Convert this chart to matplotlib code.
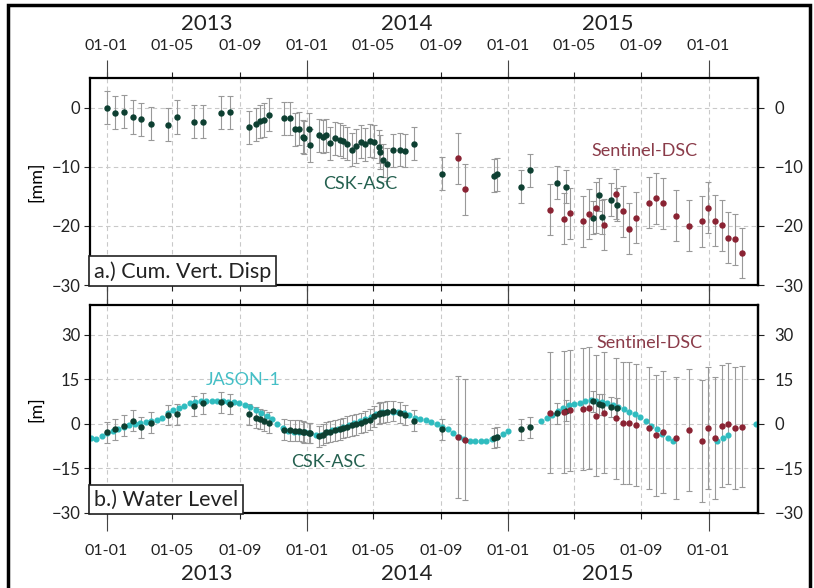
import numpy as np
import pandas as pd
import matplotlib
matplotlib.use("Agg")
import matplotlib.pyplot as plt
import matplotlib.dates as mdates
from matplotlib.patches import Rectangle

plt.rcParams['font.family'] = ['Lato', 'DejaVu Sans']

# ---- data ----
csk_dates = ["2013-01-01", "2013-01-17", "2013-02-01", "2013-02-18", "2013-03-04", "2013-03-22",
             "2013-04-23", "2013-05-09", "2013-06-09", "2013-06-25", "2013-07-28", "2013-08-13",
             "2013-09-17", "2013-09-29", "2013-10-08", "2013-10-15", "2013-10-24", "2013-11-20",
             "2013-12-01", "2013-12-10", "2013-12-18", "2013-12-24", "2013-12-27", "2014-01-04",
             "2014-01-07", "2014-01-23", "2014-01-29", "2014-02-05", "2014-02-12", "2014-02-21",
             "2014-03-02", "2014-03-08", "2014-03-14", "2014-03-23", "2014-03-31", "2014-04-09",
             "2014-04-17", "2014-04-26", "2014-05-02", "2014-05-11", "2014-05-14", "2014-05-18",
             "2014-05-27", "2014-06-06", "2014-06-19", "2014-06-28", "2014-07-15", "2014-09-04",
             "2014-12-07", "2014-12-12", "2015-01-25", "2015-02-10", "2015-03-31", "2015-04-16",
             "2015-06-05", "2015-06-16", "2015-06-21", "2015-07-07", "2015-07-19"]
csk_disp = [0.0, -0.9, -0.7, -1.6, -2.0, -2.7, -2.9, -1.6, -2.4, -2.4,
            -0.9, -0.8, -3.3, -2.8, -2.3, -2.1, -1.2, -1.8, -1.8, -3.7,
            -3.6, -4.9, -5.1, -3.7, -6.4, -4.7, -4.9, -4.7, -6.0, -5.2,
            -5.4, -5.7, -6.1, -7.1, -6.5, -5.8, -6.2, -5.6, -5.8, -6.6,
            -7.5, -8.9, -9.6, -7.2, -7.1, -7.3, -6.1, -11.2, -11.5, -11.3,
            -13.4, -10.6, -12.7, -13.4, -18.6, -14.7, -18.5, -15.6, -16.4]
csk_level = [-2.8, -1.8, -0.6, 1.0, -1.2, 0.4, 3.0, 3.2, 6.0, 6.9,
             7.2, 6.7, 3.2, 2.1, 1.6, 1.1, 0.4, -2.0, -2.2, -2.3,
             -2.3, -2.7, -2.9, -3.1, -3.1, -4.2, -3.7, -2.9, -2.6, -2.2,
             -1.8, -1.4, -1.0, -0.5, -0.1, 0.3, 0.8, 1.4, 2.6, 3.4,
             3.7, 3.8, 4.1, 4.3, 3.7, 3.0, 1.0, -1.8, -4.8, -4.4,
             -1.8, -1.2, 3.6, 4.4, 7.6, 6.6, 6.5, 5.7, 5.3]
csk_disp_err = 2.8
csk_level_err = 3.5

sent_dates = ["2014-10-02", "2014-10-15", "2015-03-19", "2015-04-13", "2015-04-24", "2015-05-18",
              "2015-05-29", "2015-06-10", "2015-06-24", "2015-07-17", "2015-07-30", "2015-08-10",
              "2015-08-22", "2015-09-15", "2015-09-27", "2015-10-10", "2015-11-03", "2015-11-27",
              "2015-12-21", "2015-12-31", "2016-01-13", "2016-01-25", "2016-02-06", "2016-02-18",
              "2016-03-01"]
sent_disp = [-8.6, -13.8, -17.3, -18.8, -17.9, -19.2, -18.0, -16.9, -19.8, -14.6,
             -17.5, -20.5, -18.6, -16.1, -15.3, -16.2, -18.3, -20.0, -19.2, -16.9,
             -19.1, -19.9, -22.0, -22.3, -24.6]
sent_level = [-4.3, -5.3, 3.8, 4.1, 4.5, 4.9, 5.3, 2.8, 3.8, 1.8,
              0.2, 0.4, -0.5, -1.5, -3.9, -2.8, -4.8, -2.1, -5.9, -1.5,
              -4.8, -0.6, 0.1, -1.5, -0.9]
sent_disp_err = 4.3
sent_level_err = 20.5

jason_dates = ["2012-12-03", "2012-12-13", "2012-12-23", "2013-01-02", "2013-01-12", "2013-01-22",
               "2013-02-01", "2013-02-11", "2013-02-21", "2013-03-03", "2013-03-13", "2013-03-23",
               "2013-04-02", "2013-04-12", "2013-04-22", "2013-05-02", "2013-05-12", "2013-05-22",
               "2013-06-01", "2013-06-11", "2013-06-21", "2013-07-01", "2013-07-11", "2013-07-21",
               "2013-07-31", "2013-08-10", "2013-08-20", "2013-08-30", "2013-09-09", "2013-09-19",
               "2013-09-29", "2013-10-09", "2013-10-19", "2013-10-29", "2013-11-08", "2013-11-18",
               "2013-11-28", "2013-12-08", "2013-12-18", "2013-12-28", "2014-01-07", "2014-01-17",
               "2014-01-27", "2014-02-06", "2014-02-16", "2014-02-26", "2014-03-08", "2014-03-18",
               "2014-03-28", "2014-04-07", "2014-04-17", "2014-04-27", "2014-05-07", "2014-05-17",
               "2014-05-27", "2014-06-06", "2014-06-16", "2014-06-26", "2014-07-06", "2014-07-16",
               "2014-07-26", "2014-08-05", "2014-08-15", "2014-08-25", "2014-09-04", "2014-09-14",
               "2014-09-24", "2014-10-04", "2014-10-14", "2014-10-24", "2014-11-03", "2014-11-13",
               "2014-11-23", "2014-12-03", "2014-12-13", "2014-12-23", "2015-01-02", "2015-03-03",
               "2015-03-13", "2015-03-23", "2015-04-02", "2015-04-12", "2015-04-22", "2015-05-02",
               "2015-05-12", "2015-05-22", "2015-06-01", "2015-06-11", "2015-06-21", "2015-07-01",
               "2015-07-11", "2015-07-21", "2015-07-31", "2015-08-10", "2015-08-20", "2015-08-30",
               "2015-09-09", "2015-09-19", "2015-09-29", "2015-10-09", "2015-10-19", "2015-10-29",
               "2016-01-17", "2016-01-27", "2016-02-06", "2016-03-27"]
jason_level = [-4.9, -5.0, -4.2, -3.2, -2.5, -1.8, -1.2, -0.4, 0.0, 0.2,
               0.5, 0.8, 1.3, 2.1, 3.5, 4.7, 5.3, 6.0, 6.9, 7.3,
               7.6, 7.8, 7.8, 7.7, 7.6, 7.4, 7.2, 6.9, 6.4, 5.7,
               4.7, 3.6, 2.8, 1.5, 0.0, -1.3, -2.5, -2.7, -2.8, -2.9,
               -3.0, -3.6, -3.8, -2.6, -2.1, -1.6, -1.0, -0.4, 0.2, 0.9,
               1.6, 2.3, 3.3, 4.0, 4.1, 4.1, 3.9, 3.6, 2.9, 2.0,
               1.5, 1.2, 0.5, -0.2, -1.2, -1.9, -3.1, -4.3, -5.1, -5.7,
               -5.8, -5.8, -5.7, -5.1, -4.3, -3.3, -2.3,
               1.0, 2.0, 3.0, 4.3, 5.4, 6.2, 6.6, 7.0, 7.6, 7.9,
               7.8, 7.4, 6.9, 6.3, 5.5, 4.9, 4.1, 3.2, 2.4, 1.0,
               -0.6, -1.6, -3.3, -4.9, -5.9,
               -5.7, -4.8, -3.6, 0.0]

year_labels = ["2013", "2014", "2015"]
year_centers = ["2013-07-02", "2014-07-02", "2015-07-02"]
disp_ticks = [0, -10, -20, -30]
level_ticks = [30, 15, 0, -15, -30]

# ---- colours ----
c_csk = '#0d3f31'
c_sent = '#8a2333'
c_jason = '#2fbcbf'
c_err = '#999999'

csk_t = pd.to_datetime(csk_dates)
sent_t = pd.to_datetime(sent_dates)
jason_t = pd.to_datetime(jason_dates)
xlim = (pd.Timestamp("2012-12-02"), pd.Timestamp("2016-03-31"))

fig = plt.figure(figsize=(8.14, 5.88), dpi=100)
ax1 = fig.add_axes([0.1106, 0.5153, 0.8206, 0.352])
ax2 = fig.add_axes([0.1106, 0.1276, 0.8206, 0.3537])


def style_axis(ax, ylim, yticks, top_labels):
    ax.set_xlim(*xlim)
    ax.set_ylim(*ylim)
    ax.set_yticks(yticks)
    ax.xaxis.set_major_locator(mdates.MonthLocator(bymonth=[1, 5, 9]))
    ax.xaxis.set_major_formatter(mdates.DateFormatter('%d-%m'))
    ax.xaxis.set_minor_locator(mdates.YearLocator())
    ax.xaxis.remove_overlapping_locs = False
    ax.tick_params(axis='x', which='major', direction='out', length=4, width=0.8,
                   top=True, bottom=True, labeltop=top_labels, labelbottom=not top_labels,
                   pad=14 if top_labels else 18, labelsize=11.5, colors='#222222')
    ax.tick_params(axis='x', which='minor', direction='out', length=13, width=0.8,
                   top=True, bottom=True, colors='#444444')
    ax.tick_params(axis='y', direction='out', length=4, width=0.8, left=True, right=False,
                   pad=3, labelsize=12, colors='#222222')
    ax.grid(True, which='major', color='#c9c9c9', linestyle=(0, (4, 3)), linewidth=0.8)
    ax.set_axisbelow(True)
    for s in ax.spines.values():
        s.set_linewidth(1.6)
    sec = ax.secondary_yaxis('right')
    sec.set_yticks(yticks)
    sec.tick_params(direction='out', length=4, width=0.8, pad=8, labelsize=12, colors='#222222')
    sec.spines['right'].set_linewidth(1.6)
    for lab, c in zip(year_labels, year_centers):
        yy, off = (1, 39) if top_labels else (0, -44)
        ax.annotate(lab, xy=(pd.Timestamp(c), yy), xycoords=('data', 'axes fraction'),
                    xytext=(0, off), textcoords='offset points', ha='center', va='center',
                    fontsize=16, color='#222222')


# ---- a.) cumulative vertical displacement ----
style_axis(ax1, (-30, 5), disp_ticks, True)
ax1.errorbar(csk_t, csk_disp, yerr=csk_disp_err, fmt='none', ecolor=c_err, elinewidth=0.8,
             capsize=2, capthick=0.8, zorder=1)
ax1.errorbar(sent_t, sent_disp, yerr=sent_disp_err, fmt='none', ecolor=c_err, elinewidth=0.8,
             capsize=2, capthick=0.8, zorder=1)
ax1.plot(csk_t, csk_disp, 'o', color=c_csk, ms=3.6, zorder=3)
ax1.plot(sent_t, sent_disp, 'o', color=c_sent, ms=3.6, zorder=4)
ax1.text(pd.Timestamp("2014-04-07"), -13, 'CSK-ASC', color='#24604f', fontsize=13,
         ha='center', va='center')
ax1.text(pd.Timestamp("2015-09-07"), -7.4, 'Sentinel-DSC', color='#8a3b49', fontsize=13,
         ha='center', va='center')
ax1.text(0.006, 0.035, 'a.) Cum. Vert. Disp', transform=ax1.transAxes, fontsize=15.5,
         color='#222222', bbox=dict(boxstyle='square,pad=0.22', fc='white', ec='#222222', lw=1.2))
ax1.set_ylabel('[mm]', fontsize=13)
ax1.yaxis.set_label_coords(-0.068, 0.5)

# ---- b.) water level ----
style_axis(ax2, (-30, 40), level_ticks, False)
ax2.errorbar(csk_t, csk_level, yerr=csk_level_err, fmt='none', ecolor=c_err, elinewidth=0.8,
             capsize=2, capthick=0.8, zorder=1)
ax2.errorbar(sent_t, sent_level, yerr=sent_level_err, fmt='none', ecolor=c_err, elinewidth=0.8,
             capsize=2, capthick=0.8, zorder=1)
ax2.plot(jason_t, jason_level, 'o', color=c_jason, ms=3.4, zorder=2)
ax2.plot(csk_t, csk_level, 'o', color=c_csk, ms=3.6, zorder=3)
ax2.plot(sent_t, sent_level, 'o', color=c_sent, ms=3.6, zorder=4)
ax2.text(pd.Timestamp("2013-09-07"), 14.7, 'JASON-1', color='#45bfc6', fontsize=13,
         ha='center', va='center')
ax2.text(pd.Timestamp("2014-02-08"), -13, 'CSK-ASC', color='#24604f', fontsize=13,
         ha='center', va='center')
ax2.text(pd.Timestamp("2015-09-16"), 27.3, 'Sentinel-DSC', color='#8a3b49', fontsize=13,
         ha='center', va='center')
ax2.text(0.006, 0.035, 'b.) Water Level', transform=ax2.transAxes, fontsize=15.5,
         color='#222222', bbox=dict(boxstyle='square,pad=0.22', fc='white', ec='#222222', lw=1.2))
ax2.set_ylabel('[m]', fontsize=13)
ax2.yaxis.set_label_coords(-0.068, 0.5)

# outer frame round the whole figure
fig.patches.append(Rectangle((0.01, -0.01), 0.985, 1.001, transform=fig.transFigure,
                             fill=False, ec='black', lw=2.5))

fig.savefig('out.png', dpi=100)
